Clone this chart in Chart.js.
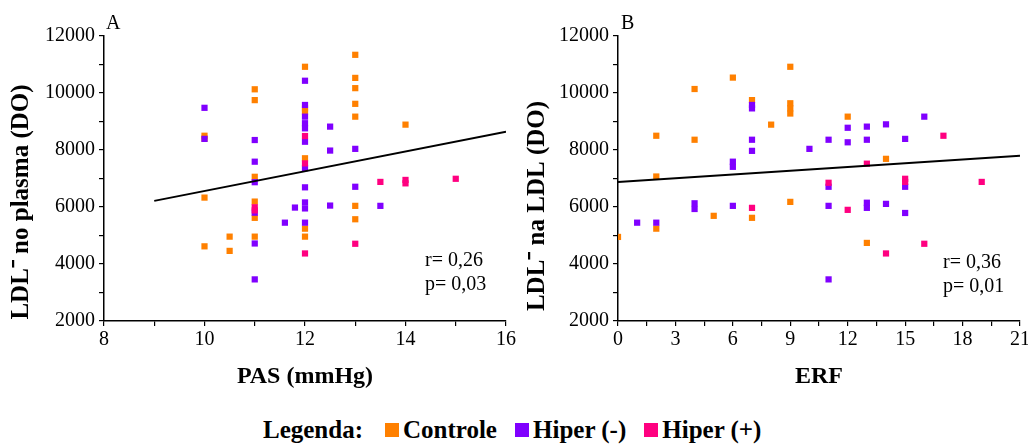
<!DOCTYPE html>
<html lang="pt">
<head>
  <meta charset="UTF-8">
  <title>LDL- vs PAS e ERF</title>
  <script src="https://cdn.jsdelivr.net/npm/chart.js"></script>
  <style>
    body { margin: 0; width: 1028px; height: 444px; background: #fff; position: relative; overflow: hidden; font-family: "Liberation Serif", "Times New Roman", serif; }
    canvas { position: absolute; top: 0; }
    #chartA { left: 0; }
    #chartB { left: 510px; }
    .legend { position: absolute; left: 263px; top: 418px; height: 24px; display: flex; align-items: center; font-weight: bold; font-size: 25px; line-height: 24px; }
    .legend .sw { display: inline-block; width: 14px; height: 14px; margin-right: 4px; }
    .legend .item { display: flex; align-items: center; margin-left: 18px; }
  </style>
</head>
<body>
  <canvas id="chartA" width="520" height="400"></canvas>
  <canvas id="chartB" width="530" height="400"></canvas>

  <div class="legend">
    <span>Legenda:</span>
    <span class="item" style="margin-left:22px"><span class="sw" style="background:#ff8000"></span>Controle</span>
    <span class="item"><span class="sw" style="background:#8000ff"></span>Hiper (-)</span>
    <span class="item"><span class="sw" style="background:#ff0080"></span>Hiper (+)</span>
  </div>

  <script>
    // Painel A: PAS (mmHg) x LDL- no plasma
    const pasControleX = [10, 10, 10, 10, 10.5, 10.5, 11, 11, 11, 11, 11, 11, 12, 12, 12, 12, 12, 12, 13, 13, 13, 13, 13, 13, 13, 14];
    const pasControleY = [8500, 8400, 6330, 4620, 4960, 4460, 10130, 9750, 7060, 6190, 5620, 4960, 10920, 9460, 9350, 7710, 5240, 4960, 11340, 10530, 10170, 9620, 9170, 6040, 5570, 8890];
    const pasHiperMenosX = [10, 10, 11, 11, 11, 11, 11, 11, 11.6, 11.8, 12, 12, 12, 12, 12, 12, 12, 12, 12, 12, 12, 12.5, 12.5, 12.5, 13, 13, 13.5];
    const pasHiperMenosY = [9480, 8390, 8350, 7590, 6870, 5800, 4720, 3460, 5450, 5980, 10430, 9580, 9170, 8940, 8760, 8290, 7360, 6690, 6160, 5950, 5450, 8820, 7980, 6050, 8040, 6710, 6040];
    const pasHiperMaisX = [11, 11, 12, 12, 12, 13, 13.5, 14, 14, 15];
    const pasHiperMaisY = [5990, 5880, 8490, 7530, 4370, 4710, 6880, 6950, 6830, 6990];
    const pasRetaX = [9, 16];
    const pasRetaY = [6215, 8640];

    // Painel B: ERF x LDL- na LDL
    const erfControleX = [0, 2, 2, 2, 4, 4, 5, 6, 7, 7, 8, 9, 9, 9, 9, 9, 12, 13, 14];
    const erfControleY = [4950, 8500, 7070, 5240, 10140, 8360, 5690, 10540, 9750, 5620, 8890, 10920, 9640, 9460, 9280, 6180, 9170, 4740, 7690];
    const erfHiperMenosX = [1, 2, 4, 4, 6, 6, 6, 7, 7, 7, 7, 10, 11, 11, 11, 11, 12, 12, 13, 13, 13, 13, 14, 14, 15, 15, 15, 16];
    const erfHiperMenosY = [5450, 5450, 6130, 5930, 7590, 7410, 6040, 9580, 9460, 8360, 7970, 8040, 8360, 6710, 6040, 3460, 8780, 8270, 8820, 8360, 6150, 5970, 8900, 6110, 8390, 6710, 5790, 9170];
    const erfHiperMaisX = [7, 11, 12, 13, 14, 15, 15, 16, 17, 19];
    const erfHiperMaisY = [5970, 6850, 5900, 7520, 4370, 6990, 6880, 4710, 8500, 6880];
    const erfRetaX = [0, 21];
    const erfRetaY = [6880, 7800];

    const yMin = 2000, yMax = 12000;
    const colors = { controle: '#ff8000', menos: '#8000ff', mais: '#ff0080' };

    function pts(xs, ys) {
      return xs.map((x, i) => ({ x: x, y: ys[i] }));
    }

    function group(xs, ys, color) {
      return {
        type: 'scatter',
        data: pts(xs, ys),
        backgroundColor: color,
        borderWidth: 0,
        pointStyle: 'rect',
        pointRadius: 4.4,
        pointHoverRadius: 4.4
      };
    }

    // titles on the y axis, panel letter and r / p text
    const panelText = {
      id: 'panelText',
      afterDraw(chart, args, o) {
        const ctx = chart.ctx;
        ctx.save();
        ctx.fillStyle = '#000';
        ctx.textBaseline = 'alphabetic';
        ctx.textAlign = 'left';
        ctx.font = '20px "Liberation Serif"';
        ctx.fillText(o.letter, o.letterX, 29);
        ctx.font = '20px "Liberation Serif"';
        ctx.fillText(o.r, o.textX, o.rY);
        ctx.fillText(o.p, o.textX, o.rY + 24);
        ctx.translate(o.yTitleX, o.yTitleY);
        ctx.rotate(-Math.PI / 2);
        ctx.textAlign = 'center';
        ctx.textBaseline = 'middle';
        ctx.font = 'bold 25px "Liberation Serif"';
        ctx.fillText(o.yTitle, 0, 0);
        ctx.restore();
      }
    };

    function makeChart(id, cfg) {
      const tickFont = { family: 'Liberation Serif', size: 20 };
      return new Chart(document.getElementById(id), {
        data: {
          datasets: [
            {
              type: 'line',
              data: pts(cfg.retaX, cfg.retaY),
              borderColor: '#000',
              borderWidth: 2,
              pointRadius: 0,
              fill: false
            },
            group(cfg.mais[0], cfg.mais[1], colors.mais),
            group(cfg.menos[0], cfg.menos[1], colors.menos),
            group(cfg.controle[0], cfg.controle[1], colors.controle)
          ]
        },
        options: {
          responsive: false,
          animation: false,
          devicePixelRatio: 1,
          layout: { padding: { top: 36, right: cfg.padRight, left: 0, bottom: 0 } },
          plugins: {
            legend: { display: false },
            tooltip: { enabled: false },
            panelText: cfg.text
          },
          scales: {
            x: {
              type: 'linear',
              min: cfg.xMin,
              max: cfg.xMax,
              afterFit(scale) { scale.height = 79; },
              border: { color: '#000', width: 1.5 },
              grid: { drawOnChartArea: false, color: '#000', tickLength: 5, lineWidth: 1.2 },
              ticks: {
                stepSize: cfg.xStep,
                autoSkip: false,
                maxRotation: 0,
                padding: 2,
                color: '#000',
                font: tickFont,
                callback: v => (v % cfg.xLabelEvery === 0 ? String(v) : '')
              },
              title: {
                display: true,
                text: cfg.xTitle,
                color: '#000',
                font: { family: 'Liberation Serif', size: 24, weight: 'bold' },
                padding: { top: 0, bottom: 9 }
              }
            },
            y: {
              type: 'linear',
              min: yMin,
              max: yMax,
              afterFit(scale) { scale.width = cfg.yWidth; },
              border: { color: '#000', width: 1.5 },
              grid: { drawOnChartArea: false, color: '#000', tickLength: 5, lineWidth: 1.2 },
              ticks: {
                stepSize: 1000,
                autoSkip: false,
                padding: 4,
                color: '#000',
                font: tickFont,
                callback: v => (v % 2000 === 0 ? String(v) : '')
              }
            }
          }
        },
        plugins: [panelText]
      });
    }

    makeChart('chartA', {
      controle: [pasControleX, pasControleY],
      menos: [pasHiperMenosX, pasHiperMenosY],
      mais: [pasHiperMaisX, pasHiperMaisY],
      retaX: pasRetaX, retaY: pasRetaY,
      xMin: 8, xMax: 16, xStep: 1, xLabelEvery: 2,
      xTitle: 'PAS (mmHg)',
      yWidth: 104, padRight: 14,
      text: { letter: 'A', letterX: 106, yTitle: 'LDL\u207B no plasma (DO)', yTitleX: 22, yTitleY: 202, r: 'r= 0,26', p: 'p= 0,03', textX: 425, rY: 266 }
    });

    makeChart('chartB', {
      controle: [erfControleX, erfControleY],
      menos: [erfHiperMenosX, erfHiperMenosY],
      mais: [erfHiperMaisX, erfHiperMaisY],
      retaX: erfRetaX, retaY: erfRetaY,
      xMin: 0, xMax: 21, xStep: 1.5, xLabelEvery: 3,
      xTitle: 'ERF',
      yWidth: 108, padRight: 20,
      text: { letter: 'B', letterX: 111, yTitle: 'LDL\u207B na LDL (DO)', yTitleX: 28, yTitleY: 206, r: 'r= 0,36', p: 'p= 0,01', textX: 433, rY: 268 }
    });
  </script>
</body>
</html>
